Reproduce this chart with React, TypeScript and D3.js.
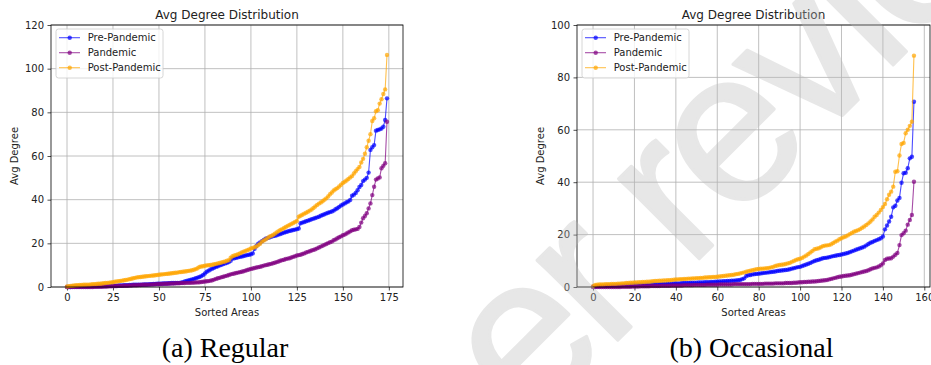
import React, { useEffect, useRef } from "react"
import * as d3 from "d3"

// avg degree per area, sorted ascending - regular visitors (175 areas)
const regularPre = [
  0, 0, 0, 0.1, 0.1, 0.1, 0.1, 0.1, 0.2, 0.2,
  0.2, 0.2, 0.2, 0.3, 0.3, 0.3, 0.3, 0.3, 0.4, 0.4,
  0.4, 0.4, 0.5, 0.5, 0.5, 0.6, 0.6, 0.6, 0.7, 0.7,
  0.7, 0.8, 0.8, 0.8, 0.9, 0.9, 1.0, 1.0, 1.0, 1.1,
  1.1, 1.1, 1.2, 1.2, 1.2, 1.3, 1.3, 1.4, 1.4, 1.5,
  1.5, 1.5, 1.6, 1.6, 1.6, 1.7, 1.7, 1.8, 1.8, 1.8,
  1.9, 1.9, 2.0, 2.2, 2.5, 2.8, 3.0, 3.2, 3.5, 3.7,
  4.0, 4.3, 4.6, 5.0, 5.5, 6.2, 7.0, 7.5, 8.0, 8.4,
  8.8, 9.2, 9.5, 9.9, 10.2, 10.5, 10.8, 11.1, 11.4, 12.0,
  13.0, 13.2, 13.4, 13.6, 13.8, 14.0, 14.2, 14.4, 14.6, 14.8,
  15.0, 15.4, 17.5, 18.8, 19.8, 20.4, 21.0, 21.6, 22.1, 22.4,
  22.7, 23.0, 23.3, 23.5, 23.7, 24.0, 24.3, 24.6, 24.9, 25.2,
  25.4, 25.7, 25.9, 26.1, 26.3, 26.5, 26.8, 29.2, 29.5, 29.8,
  30.1, 30.4, 30.7, 31.0, 31.3, 31.6, 31.9, 32.2, 32.6, 33.0,
  33.3, 33.7, 34.0, 34.3, 34.6, 35.0, 35.6, 36.1, 36.7, 37.3,
  37.8, 38.3, 38.8, 39.2, 39.9, 41.8, 42.3, 43.1, 44.3, 45.8,
  46.7, 48.5, 49.2, 50.0, 52.4, 62.8, 64.0, 65.0, 71.6, 71.9,
  72.2, 72.6, 73.4, 76.5, 86.4,
]
const regularPandemic = [
  0, 0, 0, 0, 0, 0, 0, 0, 0, 0,
  0, 0, 0, 0, 0, 0.05, 0.1, 0.1, 0.1, 0.1,
  0.2, 0.2, 0.2, 0.3, 0.3, 0.4, 0.4, 0.4, 0.5, 0.5,
  0.5, 0.6, 0.6, 0.6, 0.7, 0.7, 0.8, 0.8, 0.8, 0.9,
  0.9, 1.0, 1.0, 1.0, 1.1, 1.1, 1.2, 1.2, 1.3, 1.3,
  1.4, 1.4, 1.4, 1.5, 1.5, 1.5, 1.6, 1.6, 1.6, 1.7,
  1.7, 1.7, 1.8, 1.8, 1.8, 1.9, 1.9, 1.9, 2.0, 2.0,
  2.1, 2.1, 2.2, 2.3, 2.4, 2.5, 2.6, 2.7, 2.9, 3.1,
  3.4, 3.7, 4.0, 4.2, 4.5, 4.7, 5.0, 5.2, 5.5, 5.8,
  6.0, 6.2, 6.4, 6.6, 6.8, 7.0, 7.2, 7.5, 7.8, 8.0,
  8.3, 8.5, 8.7, 8.9, 9.1, 9.3, 9.5, 9.8, 10.0, 10.2,
  10.4, 10.6, 10.9, 11.1, 11.4, 11.7, 12.0, 12.3, 12.5, 12.8,
  13.0, 13.2, 13.5, 13.8, 14.1, 14.4, 14.6, 14.8, 15.1, 15.4,
  15.8, 16.1, 16.4, 16.7, 17.0, 17.3, 17.7, 18.1, 18.5, 18.9,
  19.3, 19.7, 20.1, 20.5, 20.8, 21.4, 21.8, 22.3, 22.8, 23.2,
  23.7, 24.0, 24.5, 25.0, 25.5, 26.0, 26.2, 26.4, 26.6, 27.5,
  29.5, 31.5, 32.5, 33.8, 36.0, 38.3, 42.1, 45.9, 49.2, 49.7,
  50.2, 54.4, 55.5, 56.7, 75.7,
]
const regularPost = [
  0.2, 0.4, 0.5, 0.6, 0.7, 0.8, 0.8, 0.9, 0.9, 1.0,
  1.0, 1.1, 1.1, 1.2, 1.3, 1.3, 1.4, 1.5, 1.5, 1.6,
  1.7, 1.8, 1.9, 2.0, 2.1, 2.2, 2.4, 2.5, 2.6, 2.8,
  2.9, 3.1, 3.2, 3.4, 3.6, 3.8, 4.0, 4.2, 4.4, 4.5,
  4.6, 4.7, 4.8, 4.9, 5.0, 5.1, 5.2, 5.3, 5.4, 5.5,
  5.6, 5.7, 5.8, 5.9, 6.0, 6.1, 6.2, 6.3, 6.4, 6.5,
  6.6, 6.8, 6.9, 7.0, 7.1, 7.2, 7.4, 7.5, 7.7, 7.9,
  8.2, 8.6, 9.2, 9.4, 9.5, 9.7, 9.9, 10.0, 10.1, 10.2,
  10.4, 10.6, 10.8, 11.0, 11.2, 11.5, 11.7, 12.0, 12.3, 13.4,
  14.1, 14.4, 14.7, 15.0, 15.4, 15.8, 16.2, 16.5, 16.8, 17.2,
  17.6, 17.9, 18.2, 18.6, 19.2, 19.8, 20.8, 21.3, 21.8, 22.4,
  23.0, 23.4, 23.8, 24.4, 25.0, 25.6, 26.1, 26.5, 27.0, 27.5,
  28.0, 28.4, 28.9, 29.3, 29.8, 30.2, 32.2, 32.6, 33.1, 33.6,
  34.0, 34.5, 35.0, 35.5, 36.2, 36.9, 37.6, 38.2, 38.7, 39.3,
  40.0, 40.6, 41.5, 42.5, 43.3, 44.2, 44.8, 45.3, 46.0, 46.8,
  47.6, 48.2, 48.8, 49.5, 50.2, 50.8, 52.0, 53.0, 54.0, 55.0,
  57.0, 58.7, 61.0, 64.0, 67.0, 70.0, 76.0, 77.3, 80.5, 81.0,
  84.0, 86.0, 88.4, 90.5, 106.3,
]

// occasional visitors (156 areas)
const occasionalPre = [
  0.1, 0.2, 0.3, 0.3, 0.4, 0.4, 0.4, 0.5, 0.5, 0.5,
  0.5, 0.6, 0.6, 0.6, 0.6, 0.7, 0.7, 0.7, 0.7, 0.8,
  0.8, 0.8, 0.8, 0.9, 0.9, 0.9, 1.0, 1.0, 1.0, 1.1,
  1.1, 1.1, 1.1, 1.2, 1.2, 1.2, 1.3, 1.3, 1.3, 1.4,
  1.4, 1.4, 1.4, 1.5, 1.5, 1.5, 1.5, 1.6, 1.6, 1.6,
  1.6, 1.7, 1.7, 1.7, 1.8, 1.8, 1.8, 1.9, 1.9, 2.0,
  2.0, 2.1, 2.1, 2.2, 2.2, 2.3, 2.3, 2.4, 2.4, 2.5,
  2.6, 2.7, 3.0, 3.3, 4.2, 4.5, 4.6, 4.8, 4.9, 5.0,
  5.1, 5.2, 5.3, 5.4, 5.5, 5.6, 5.7, 5.8, 5.9, 6.1,
  6.2, 6.3, 6.4, 6.5, 6.6, 6.8, 7.0, 7.2, 7.4, 7.6,
  7.7, 8.0, 8.3, 8.6, 8.9, 9.2, 9.6, 9.9, 10.2, 10.4,
  10.7, 11.0, 11.1, 11.2, 11.4, 11.6, 11.8, 11.9, 12.1, 12.2,
  12.4, 12.6, 12.8, 13.0, 13.3, 13.6, 13.9, 14.2, 14.5, 14.8,
  15.1, 15.4, 15.9, 16.4, 16.9, 17.2, 17.6, 17.9, 18.2, 18.6,
  19.3, 22.0, 23.5, 25.0, 26.8, 30.4, 31.0, 33.0, 34.0, 39.8,
  43.4, 43.6, 45.3, 49.1, 49.7, 70.7,
]
const occasionalPandemic = [
  0, 0, 0, 0, 0, 0, 0, 0, 0, 0,
  0, 0, 0, 0, 0.05, 0.1, 0.1, 0.1, 0.1, 0.2,
  0.2, 0.2, 0.2, 0.3, 0.3, 0.3, 0.3, 0.3, 0.4, 0.4,
  0.4, 0.4, 0.4, 0.5, 0.5, 0.5, 0.5, 0.5, 0.6, 0.6,
  0.6, 0.6, 0.6, 0.6, 0.7, 0.7, 0.7, 0.7, 0.7, 0.8,
  0.8, 0.8, 0.8, 0.8, 0.8, 0.9, 0.9, 0.9, 0.9, 0.9,
  0.9, 1.0, 1.0, 1.0, 1.0, 1.0, 1.0, 1.0, 1.1, 1.1,
  1.1, 1.1, 1.1, 1.1, 1.1, 1.1, 1.1, 1.2, 1.2, 1.2,
  1.2, 1.2, 1.2, 1.3, 1.3, 1.3, 1.3, 1.3, 1.4, 1.4,
  1.4, 1.4, 1.4, 1.5, 1.5, 1.5, 1.5, 1.6, 1.6, 1.7,
  1.8, 1.8, 1.9, 1.9, 2.0, 2.0, 2.1, 2.1, 2.2, 2.3,
  2.4, 2.5, 2.6, 2.7, 2.9, 3.1, 3.3, 3.5, 3.7, 3.9,
  4.0, 4.2, 4.3, 4.4, 4.5, 4.7, 4.9, 5.1, 5.3, 5.5,
  5.7, 5.9, 6.1, 6.4, 6.8, 7.1, 7.3, 7.5, 7.8, 8.3,
  9.0, 10.3, 10.8, 10.9, 11.0, 11.6, 12.3, 13.0, 16.0, 19.8,
  20.5, 21.5, 23.8, 25.6, 27.5, 40.2,
]
const occasionalPost = [
  0.3, 0.8, 0.9, 1.0, 1.0, 1.0, 1.1, 1.1, 1.1, 1.2,
  1.2, 1.2, 1.3, 1.3, 1.4, 1.4, 1.5, 1.5, 1.6, 1.6,
  1.7, 1.7, 1.8, 1.8, 1.9, 1.9, 2.0, 2.0, 2.1, 2.2,
  2.3, 2.3, 2.4, 2.4, 2.5, 2.5, 2.6, 2.6, 2.7, 2.8,
  2.9, 2.9, 3.0, 3.0, 3.1, 3.1, 3.2, 3.2, 3.3, 3.3,
  3.4, 3.4, 3.5, 3.5, 3.6, 3.6, 3.7, 3.7, 3.8, 3.8,
  3.9, 4.0, 4.1, 4.2, 4.3, 4.4, 4.5, 4.6, 4.7, 4.9,
  5.0, 5.2, 5.4, 5.6, 5.8, 6.0, 6.2, 6.4, 6.6, 6.8,
  6.9, 7.0, 7.0, 7.1, 7.2, 7.3, 7.5, 7.7, 8.0, 8.2,
  8.4, 8.5, 8.6, 8.8, 9.0, 9.2, 9.6, 9.9, 10.3, 10.6,
  10.8, 11.1, 11.6, 12.0, 12.6, 13.2, 13.8, 14.4, 14.6, 14.8,
  15.2, 15.6, 15.8, 15.9, 16.0, 16.3, 16.8, 17.3, 17.7, 18.2,
  18.6, 19.0, 19.3, 19.7, 20.2, 20.6, 21.1, 21.4, 21.7, 22.1,
  22.6, 23.1, 23.7, 24.3, 25.0, 25.8, 26.8, 27.5, 28.4, 29.4,
  30.5, 31.7, 33.5, 35.2, 36.4, 38.3, 44.0, 44.2, 50.2, 54.6,
  55.0, 58.7, 60.0, 61.5, 63.1, 88.3,
]

const seriesNames = ["Pre-Pandemic", "Pandemic", "Post-Pandemic"]
const seriesColors = ["blue", "purple", "orange"]
const regularXTicks = [0, 25, 50, 75, 100, 125, 150, 175]
const regularYTicks = [0, 20, 40, 60, 80, 100, 120]
const occasionalXTicks = [0, 20, 40, 60, 80, 100, 120, 140, 160]
const occasionalYTicks = [0, 20, 40, 60, 80, 100]
const captions = ["(a) Regular", "(b) Occasional"]
const watermark = "Preprint not peer reviewed"

const W = 931
const H = 365
const FONT = "'DejaVu Sans', sans-serif"

function drawPanel(svg, series, xTicks, yTicks, caption, left, right) {
  const top = 25
  const bottom = 287
  const n = d3.max(series, (s: number[]) => s.length)
  const pad = (n - 1) * 0.05
  const x = d3.scaleLinear().domain([-pad, n - 1 + pad]).range([left, right])
  const y = d3.scaleLinear().domain([0, yTicks[yTicks.length - 1]]).range([bottom, top])
  const mid = (left + right) / 2

  const g = svg.append("g")

  // grid
  g.append("g").selectAll("line").data(xTicks).join("line")
    .attr("x1", d => x(d)).attr("x2", d => x(d))
    .attr("y1", top).attr("y2", bottom)
    .attr("stroke", "#b0b0b0").attr("stroke-width", 0.8)
  g.append("g").selectAll("line").data(yTicks).join("line")
    .attr("x1", left).attr("x2", right)
    .attr("y1", d => y(d)).attr("y2", d => y(d))
    .attr("stroke", "#b0b0b0").attr("stroke-width", 0.8)

  // axes
  const xa = g.append("g")
    .attr("transform", `translate(0,${bottom})`)
    .call(d3.axisBottom(x).tickValues(xTicks).tickFormat(d3.format("d")).tickSize(3.5).tickPadding(3.5))
  const ya = g.append("g")
    .attr("transform", `translate(${left},0)`)
    .call(d3.axisLeft(y).tickValues(yTicks).tickFormat(d3.format("d")).tickSize(3.5).tickPadding(3.5))
  for (const a of [xa, ya]) {
    a.select(".domain").remove()
    a.attr("font-family", FONT).attr("font-size", 10).attr("color", "#222")
    a.selectAll("line").attr("stroke-width", 0.8)
  }

  // series
  const line = d3.line<number>().x((d, i) => x(i)).y(d => y(d))
  series.forEach((s, k) => {
    g.append("path")
      .datum(s)
      .attr("fill", "none")
      .attr("stroke", seriesColors[k])
      .attr("stroke-opacity", 0.7)
      .attr("stroke-width", 1.1)
      .attr("d", line)
    g.append("g").selectAll("circle").data(s).join("circle")
      .attr("cx", (d, i) => x(i))
      .attr("cy", d => y(d))
      .attr("r", 2.2)
      .attr("fill", seriesColors[k])
      .attr("fill-opacity", 0.7)
  })

  // spines
  g.append("rect")
    .attr("x", left).attr("y", top)
    .attr("width", right - left).attr("height", bottom - top)
    .attr("fill", "none").attr("stroke", "#000").attr("stroke-width", 0.8)

  // legend
  const lg = g.append("g").attr("transform", `translate(${left + 5},${top + 4})`)
  lg.append("rect")
    .attr("width", 107).attr("height", 49).attr("rx", 2.5)
    .attr("fill", "#fff").attr("fill-opacity", 0.8)
    .attr("stroke", "#ccc").attr("stroke-width", 0.8)
  seriesNames.forEach((name, k) => {
    const ly = 8.7 + k * 15
    lg.append("line")
      .attr("x1", 3).attr("x2", 24).attr("y1", ly).attr("y2", ly)
      .attr("stroke", seriesColors[k]).attr("stroke-opacity", 0.7).attr("stroke-width", 1.1)
    lg.append("circle")
      .attr("cx", 13.7).attr("cy", ly).attr("r", 2.2)
      .attr("fill", seriesColors[k]).attr("fill-opacity", 0.7)
    lg.append("text")
      .attr("x", 31.7).attr("y", ly).attr("dy", "0.35em")
      .attr("font-family", FONT).attr("font-size", 10).attr("fill", "#222")
      .text(name)
  })

  // labels
  g.append("text")
    .attr("x", mid).attr("y", top - 6)
    .attr("text-anchor", "middle")
    .attr("font-family", FONT).attr("font-size", 12).attr("fill", "#222")
    .text("Avg Degree Distribution")
  g.append("text")
    .attr("x", mid).attr("y", 315.5)
    .attr("text-anchor", "middle")
    .attr("font-family", FONT).attr("font-size", 10).attr("fill", "#222")
    .text("Sorted Areas")
  g.append("text")
    .attr("transform", `translate(${left - 33},${(top + bottom) / 2}) rotate(-90)`)
    .attr("text-anchor", "middle")
    .attr("font-family", FONT).attr("font-size", 10).attr("fill", "#222")
    .text("Avg Degree")
  g.append("text")
    .attr("x", mid - 2).attr("y", 356.5)
    .attr("text-anchor", "middle")
    .attr("font-family", "'Liberation Serif', serif").attr("font-size", 28).attr("fill", "#000")
    .text(caption)
}

export default function App() {
  const ref = useRef<SVGSVGElement>(null)

  useEffect(() => {
    const svg = d3.select(ref.current)
    svg.selectAll("*").remove()
    svg.append("rect").attr("width", W).attr("height", H).attr("fill", "#fff")

    drawPanel(svg, [regularPre, regularPandemic, regularPost], regularXTicks, regularYTicks, captions[0], 51, 403)
    drawPanel(svg, [occasionalPre, occasionalPandemic, occasionalPost], occasionalXTicks, occasionalYTicks, captions[1], 577, 930)

    // diagonal preprint watermark
    svg.append("text")
      .attr("transform", "translate(-384,1342) rotate(-45)")
      .attr("font-family", "'Liberation Sans', sans-serif")
      .attr("font-size", 215)
      .attr("letter-spacing", -8)
      .attr("fill", "#bbb")
      .attr("stroke", "#bbb").attr("stroke-width", 3).attr("stroke-linejoin", "round")
      .attr("opacity", 0.35)
      .text(watermark)
  }, [])

  return (
    <svg
      ref={ref}
      width={W}
      height={H}
      style={{ position: "absolute", left: 0, top: 0, display: "block" }}
    />
  )
}
